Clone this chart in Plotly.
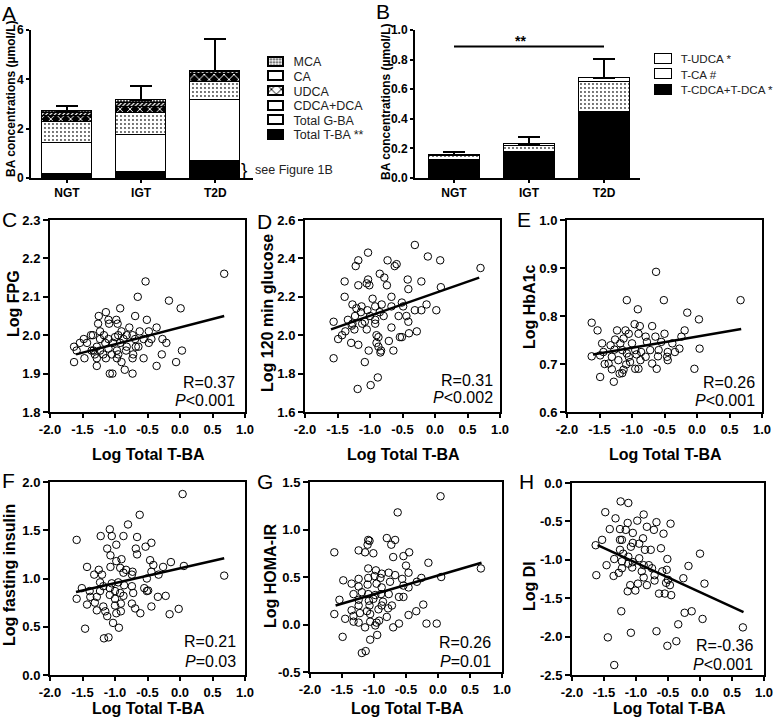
import plotly.graph_objects as go

W, H = 777, 722
FONT = "Liberation Sans, Arial, sans-serif"


def fx(px):
    return px / W


def fy(py):
    return 1 - py / H


def bold(s):
    return f"<b>{s}</b>"


# ---------------- data ----------------
groups = ["NGT", "IGT", "T2D"]

# panel A: stacked layers, bottom -> top (umol/L)
a_names = ["Total T-BA **", "Total G-BA", "CDCA+DCA", "UDCA", "CA", "MCA"]
a_tba = [0.155, 0.227, 0.676]
a_gba = [1.245, 1.50, 2.50]
a_cdca_dca = [0.88, 0.91, 0.72]
a_udca = [0.23, 0.25, 0.31]
a_ca = [0.11, 0.17, 0.10]
a_mca = [0.10, 0.12, 0.05]
a_sem = [0.20, 0.55, 1.29]
a_yticks = [0, 2, 4, 6]

# panel B: taurine-conjugated, bottom -> top
b_names = ["T-CDCA+T-DCA *", "T-CA #", "T-UDCA *"]
b_tcdca_tdca = [0.120, 0.173, 0.443]
b_tca = [0.026, 0.040, 0.209]
b_tudca = [0.009, 0.014, 0.024]
b_sem = [0.018, 0.049, 0.128]
b_sig_y = 0.888
b_yticks = [0.0, 0.2, 0.4, 0.6, 0.8, 1.0]

x_ticks = [-2.0, -1.5, -1.0, -0.5, 0.0, 0.5, 1.0]
fit_x = [-1.6, 0.68]

# C: Log FPG
c_pts = [(0.68, 2.16), (-0.53, 2.14), (-0.65, 2.10), (-0.17, 2.09), (0.01, 2.07), (-0.92, 2.07), (-0.69, 2.05), (-1.25, 2.05),
         (-1.14, 2.06), (-0.98, 2.04), (-1.10, 2.04), (-0.51, 2.04), (-1.09, 2.03), (-0.96, 2.03), (-0.36, 2.02), (-0.78, 2.02),
         (-1.26, 2.03), (-0.48, 2.01), (-0.62, 2.01), (-1.34, 2.00), (-1.23, 2.01), (-0.95, 2.00), (-0.90, 2.01), (-0.82, 2.00),
         (-0.73, 2.00), (-1.48, 1.99), (-1.37, 2.00), (-1.23, 1.99), (-1.10, 1.99), (-1.00, 1.995), (-0.87, 1.99), (-0.69, 1.99),
         (-0.56, 1.99), (-0.44, 1.99), (-0.27, 1.99), (-0.21, 1.98), (-1.63, 1.97), (-1.54, 1.98), (-1.43, 1.98), (-1.28, 1.97),
         (-1.15, 1.98), (-1.03, 1.98), (-0.92, 1.98), (-0.82, 1.97), (-0.68, 1.97), (-0.48, 1.98), (-1.59, 1.96), (-1.36, 1.96),
         (-1.23, 1.96), (-1.10, 1.965), (-0.97, 1.96), (-0.83, 1.96), (-0.64, 1.97), (0.03, 1.96), (-1.31, 1.95), (-1.18, 1.95),
         (-1.05, 1.95), (-0.95, 1.95), (-0.72, 1.95), (-0.28, 1.95), (-1.63, 1.93), (-1.47, 1.94), (-1.28, 1.94), (-1.14, 1.94),
         (-0.97, 1.94), (-0.73, 1.94), (-0.56, 1.94), (-1.28, 1.92), (-0.90, 1.93), (-0.36, 1.92), (-0.06, 1.93), (-1.08, 1.90),
         (-0.85, 1.91), (-0.73, 1.90), (-1.04, 1.90), (-1.17, 2.00), (-1.33, 1.96)]
c_fit = [1.95, 2.05]
c_yticks = [1.8, 1.9, 2.0, 2.1, 2.2, 2.3]

# D: Log 120 min glucose
d_pts = [(-0.31, 2.47), (-1.03, 2.43), (-0.11, 2.41), (0.08, 2.39), (-1.18, 2.39), (-0.73, 2.39), (-0.59, 2.37), (-1.22, 2.36),
         (-0.62, 2.36), (0.70, 2.35), (-0.85, 2.32), (-1.39, 2.28), (-0.78, 2.30), (-0.42, 2.29), (-0.21, 2.28), (-1.03, 2.29),
         (-1.05, 2.27), (-1.18, 2.26), (-1.01, 2.26), (-0.74, 2.26), (-0.41, 2.24), (0.09, 2.25), (-1.39, 2.20), (-0.67, 2.20),
         (-0.96, 2.19), (-1.27, 2.16), (-0.82, 2.16), (-0.92, 2.15), (-0.51, 2.17), (-0.13, 2.16), (-1.13, 2.15), (-1.21, 2.14),
         (-0.49, 2.15), (-0.67, 2.15), (-1.04, 2.13), (-0.85, 2.12), (-0.31, 2.13), (0.02, 2.13), (-0.21, 2.13), (-1.14, 2.12),
         (-1.23, 2.10), (-1.00, 2.10), (-0.44, 2.10), (-0.56, 2.10), (-0.79, 2.10), (-0.92, 2.08), (-1.34, 2.08), (-1.56, 2.07),
         (-1.08, 2.07), (-0.41, 2.07), (-1.27, 2.06), (-1.12, 2.06), (-0.92, 2.06), (-0.67, 2.04), (-1.24, 2.03), (-1.05, 2.03),
         (-1.28, 2.05), (-0.40, 2.01), (-0.28, 2.02), (-1.43, 2.00), (-1.49, 1.98), (-0.90, 2.00), (-0.87, 1.99), (-0.54, 1.99),
         (-0.51, 1.99), (-0.71, 1.97), (-1.29, 1.96), (-1.18, 1.95), (-0.90, 1.96), (-0.87, 1.94), (-1.02, 1.92), (-0.83, 1.92),
         (-0.64, 1.92), (-0.84, 1.91), (-1.56, 1.88), (-1.08, 1.86), (-0.88, 1.78), (-0.99, 1.74), (-1.19, 1.72), (-1.38, 2.02)]
d_fit = [2.03, 2.30]
d_yticks = [1.6, 1.8, 2.0, 2.2, 2.4, 2.6]

# E: Log HbA1c
e_pts = [(-0.63, 0.892), (-1.08, 0.833), (-0.51, 0.833), (0.67, 0.833), (-0.91, 0.814), (-0.15, 0.807), (0.03, 0.793),
         (-1.62, 0.786), (-0.96, 0.783), (-0.69, 0.779), (-0.88, 0.779), (-1.53, 0.770), (-0.19, 0.770), (-1.23, 0.770),
         (-1.10, 0.770), (-1.05, 0.763), (-0.50, 0.763), (-0.90, 0.763), (-0.79, 0.757), (-0.24, 0.757), (-0.64, 0.757),
         (-1.46, 0.743), (-1.26, 0.751), (-1.13, 0.753), (-1.33, 0.739), (-1.18, 0.743), (-1.00, 0.743), (-0.77, 0.746),
         (-0.55, 0.746), (-0.38, 0.743), (-0.27, 0.732), (0.04, 0.732), (-1.44, 0.725), (-1.27, 0.730), (-1.15, 0.729),
         (-1.08, 0.722), (-0.95, 0.729), (-0.86, 0.725), (-0.72, 0.729), (-0.59, 0.729), (-0.45, 0.725), (-0.34, 0.725),
         (-1.62, 0.716), (-1.49, 0.718), (-1.31, 0.715), (-1.05, 0.715), (-0.93, 0.720), (-0.79, 0.715), (-0.60, 0.716),
         (-0.46, 0.715), (-1.21, 0.708), (-1.03, 0.704), (-0.87, 0.708), (-0.69, 0.701), (-0.45, 0.708), (-1.42, 0.700),
         (-1.36, 0.701), (-1.09, 0.699), (-1.31, 0.689), (-1.13, 0.688), (-0.95, 0.690), (-0.90, 0.690), (-0.62, 0.690),
         (-0.04, 0.690), (-1.15, 0.681), (-1.49, 0.673), (-1.28, 0.663), (-1.19, 0.680)]
e_fit = [0.720, 0.773]
e_yticks = [0.6, 0.7, 0.8, 0.9, 1.0]

# F: Log fasting insulin
f_pts = [(0.04, 1.875), (-0.62, 1.66), (-1.59, 1.40), (-0.80, 1.56), (-1.22, 1.44), (-1.08, 1.51), (-1.05, 1.44), (-0.87, 1.44),
         (-0.66, 1.43), (-0.44, 1.37), (-1.12, 1.31), (-0.98, 1.35), (-0.68, 1.31), (-0.53, 1.33), (-1.07, 1.24), (-0.66, 1.25),
         (-1.43, 1.12), (-1.07, 1.12), (-0.98, 1.18), (-0.90, 1.20), (-0.46, 1.19), (-0.41, 1.14), (-0.26, 1.12), (-0.14, 1.17),
         (0.06, 1.13), (-1.25, 1.09), (-0.92, 1.11), (-0.83, 1.09), (-0.73, 1.07), (-0.44, 1.07), (-1.20, 1.04), (-0.87, 1.06),
         (-0.74, 1.04), (-0.33, 1.04), (-1.32, 1.04), (0.68, 1.03), (-1.51, 0.90), (-1.23, 0.96), (-1.05, 0.95), (-0.95, 0.96),
         (-1.18, 0.92), (-1.08, 0.90), (-0.86, 0.93), (-0.74, 0.92), (-0.51, 1.00), (-0.55, 0.90), (-0.51, 0.87), (-1.39, 0.87),
         (-1.23, 0.87), (-1.00, 0.87), (-0.72, 0.85), (-0.92, 0.85), (-0.49, 0.875), (-1.38, 0.81), (-1.28, 0.81), (-1.08, 0.83),
         (-0.87, 0.82), (-0.34, 0.81), (-0.22, 0.82), (-1.59, 0.79), (-1.31, 0.75), (-1.00, 0.79), (-0.91, 0.74), (-0.74, 0.74),
         (-1.43, 0.73), (-1.00, 0.72), (-1.18, 0.71), (-0.69, 0.69), (-0.44, 0.71), (-1.28, 0.67), (-1.15, 0.66), (-0.91, 0.66),
         (-0.61, 0.64), (-0.16, 0.63), (-0.02, 0.685), (-0.98, 0.64), (-1.12, 0.61), (-1.03, 0.54), (-0.94, 0.49), (-1.46, 0.48),
         (-1.17, 0.38), (-1.10, 0.39)]
f_fit = [0.86, 1.21]
f_yticks = [0.0, 0.5, 1.0, 1.5, 2.0]

# G: Log HOMA-IR
g_pts = [(0.04, 1.35), (-0.63, 1.18), (-1.62, 0.76), (-1.09, 0.89), (-0.80, 0.91), (-0.67, 0.89), (-1.07, 0.88), (-0.73, 0.84),
         (-1.10, 0.84), (-1.24, 0.78), (-1.14, 0.76), (-1.01, 0.75), (-0.45, 0.76), (-0.54, 0.72), (-0.70, 0.71), (-0.15, 0.65),
         (-0.50, 0.62), (-1.09, 0.59), (-0.97, 0.57), (-0.88, 0.535), (-0.77, 0.545), (-0.46, 0.545), (-0.99, 0.51), (-0.67, 0.52),
         (-1.48, 0.465), (-1.24, 0.48), (-1.09, 0.49), (-0.90, 0.49), (-0.56, 0.48), (-0.26, 0.49), (0.05, 0.50), (0.67, 0.59),
         (-1.35, 0.43), (-1.10, 0.42), (-0.96, 0.43), (-0.75, 0.45), (-0.33, 0.45), (-0.54, 0.41), (-1.24, 0.40), (-0.88, 0.39),
         (-0.46, 0.39), (-1.19, 0.34), (-1.32, 0.32), (-1.09, 0.32), (-0.98, 0.31), (-0.89, 0.32), (-0.77, 0.32), (-0.61, 0.29),
         (-0.54, 0.29), (-1.54, 0.26), (-1.24, 0.26), (-1.08, 0.25), (-1.01, 0.27), (-0.86, 0.24), (-1.24, 0.20), (-1.07, 0.20),
         (-0.88, 0.20), (-0.72, 0.20), (-0.23, 0.21), (-1.35, 0.15), (-1.11, 0.14), (-0.93, 0.16), (-0.78, 0.17), (-0.46, 0.10),
         (-0.34, 0.14), (-1.62, 0.11), (-1.32, 0.09), (-1.22, 0.12), (-1.06, 0.11), (-0.80, 0.08), (-1.45, 0.06), (-1.32, 0.03),
         (-1.24, 0.02), (-1.06, 0.03), (-0.92, 0.04), (-0.96, 0.02), (-0.61, 0.01), (-0.18, 0.01), (-0.02, 0.01), (-1.14, -0.03),
         (-0.98, -0.01), (-0.70, -0.03), (-1.49, -0.13), (-1.06, -0.16), (-0.95, -0.11), (-1.19, -0.30), (-1.13, -0.28)]
g_fit = [0.20, 0.65]
g_yticks = [-0.5, 0.0, 0.5, 1.0, 1.5]

# H: Log DI
h_pts = [(-1.24, -0.24), (-1.12, -0.26), (-1.48, -0.38), (-0.88, -0.41), (-1.32, -0.46), (-0.98, -0.49), (-1.13, -0.52),
         (-0.68, -0.51), (-0.46, -0.53), (-0.83, -0.57), (-1.41, -0.60), (-1.25, -0.60), (-1.16, -0.61), (-0.72, -0.61),
         (-0.57, -0.66), (-1.05, -0.65), (-1.53, -0.74), (-1.25, -0.74), (-1.22, -0.74), (-0.89, -0.72), (-1.05, -0.78),
         (-0.95, -0.79), (-1.08, -0.83), (-0.77, -0.87), (-0.61, -0.85), (-1.63, -0.81), (-1.25, -0.87), (-1.20, -0.92),
         (-0.86, -0.87), (0.00, -0.92), (-1.34, -0.99), (-1.12, -0.96), (-0.95, -0.98), (-0.51, -0.99), (-1.22, -1.02),
         (-1.05, -1.03), (-1.12, -1.05), (-0.88, -1.07), (-0.18, -1.08), (-1.46, -1.07), (-0.80, -1.07), (-1.22, -1.11),
         (-1.06, -1.10), (-0.75, -1.11), (-0.59, -1.15), (-0.52, -1.13), (-1.27, -1.17), (-0.91, -1.15), (-1.62, -1.20),
         (-1.35, -1.21), (-0.71, -1.20), (-0.26, -1.24), (-0.88, -1.23), (-0.50, -1.26), (-0.71, -1.27), (-0.53, -1.30),
         (-0.97, -1.31), (-1.09, -1.33), (-0.83, -1.33), (-0.47, -1.33), (0.07, -1.31), (-1.13, -1.41), (-1.01, -1.40),
         (-0.64, -1.44), (-0.55, -1.44), (-0.45, -1.46), (-0.13, -1.67), (-0.24, -1.69), (-1.23, -1.67), (0.04, -1.77),
         (-0.34, -1.84), (0.67, -1.88), (-0.68, -1.93), (-1.08, -1.95), (-0.37, -2.06), (-0.51, -2.12), (-1.44, -2.01),
         (-1.34, -2.37)]
h_fit = [-0.81, -1.68]
h_yticks = [-2.5, -2.0, -1.5, -1.0, -0.5, 0.0]

# ---------------- styles ----------------
fills = {
    "Total T-BA **": dict(shape="", bg="black", fg="black", size=8, solidity=0.3),
    "Total G-BA": dict(shape="", bg="white", fg="white", size=8, solidity=0.3),
    "CDCA+DCA": dict(shape=".", bg="white", fg="#444", size=4, solidity=0.18),
    "UDCA": dict(shape="x", bg="black", fg="white", size=7, solidity=0.25),
    "CA": dict(shape="/", bg="white", fg="black", size=3, solidity=0.6),
    "MCA": dict(shape=".", bg="#111", fg="white", size=3, solidity=0.3),
    "T-CDCA+T-DCA *": dict(shape="", bg="black", fg="black", size=8, solidity=0.3),
    "T-CA #": dict(shape=".", bg="white", fg="#444", size=4, solidity=0.18),
    "T-UDCA *": dict(shape="", bg="white", fg="white", size=8, solidity=0.3),
}

tick_font = lambda s: dict(family=FONT, size=s, color="black")
base_axis = dict(showline=True, linecolor="black", linewidth=2, ticks="outside", ticklen=5,
                 tickwidth=2, tickcolor="black", showgrid=False, zeroline=False, automargin=False)

fig = go.Figure()
layout = {}
annotations = []
shapes = []


def add_stack(names, layers, sem, n):
    xa, ya = ("x", "y") if n == 1 else (f"x{n}", f"y{n}")
    for i, (name, vals) in enumerate(zip(names, layers)):
        st = fills[name]
        top = i == len(layers) - 1
        fig.add_trace(go.Bar(
            x=groups, y=vals, xaxis=xa, yaxis=ya, width=0.68, showlegend=False, hoverinfo="skip",
            marker=dict(color=st["bg"], line=dict(color="black", width=1.5),
                        pattern=dict(shape=st["shape"], bgcolor=st["bg"], fgcolor=st["fg"],
                                     size=st["size"], solidity=st["solidity"])),
            error_y=dict(type="data", array=sem, arrayminus=[0] * len(sem), symmetric=False,
                         color="black", thickness=2, width=11, visible=top),
        ))


def add_key(names, n, box, font_size):
    # patterned swatches + labels, drawn as a tiny horizontal bar chart
    st = [fills[k] for k in names]
    fig.add_trace(go.Bar(
        y=names, x=[1] * len(names), orientation="h", xaxis=f"x{n}", yaxis=f"y{n}", width=0.62,
        showlegend=False, hoverinfo="skip",
        marker=dict(color=[s["bg"] for s in st], line=dict(color="black", width=1.5),
                    pattern=dict(shape=[s["shape"] for s in st], bgcolor=[s["bg"] for s in st],
                                 fgcolor=[s["fg"] for s in st], size=[s["size"] for s in st],
                                 solidity=[s["solidity"] for s in st])),
    ))
    x0, x1, y0, y1, label_x = box
    pad = (x1 - x0) * 0.1
    layout[f"xaxis{n}"] = dict(domain=[fx(x0 - pad), fx(x1 + pad)], anchor=f"y{n}", range=[-0.1, 1.1],
                               visible=False)
    layout[f"yaxis{n}"] = dict(domain=[fy(y1), fy(y0)], anchor=f"x{n}", type="category",
                               range=[len(names) - 0.5, -0.5], side="right", showline=False, ticks="",
                               tickmode="array", tickvals=names, ticktext=names,
                               showgrid=False, zeroline=False,
                               ticklabelstandoff=int(round(label_x - (x1 + pad))),
                               automargin=False, tickfont=dict(family=FONT, size=font_size, color="#222"))


# panel A
add_stack(a_names, [a_tba, a_gba, a_cdca_dca, a_udca, a_ca, a_mca], a_sem, 1)
layout["xaxis"] = dict(base_axis, domain=[fx(31), fx(253)], anchor="y", type="category",
                       range=[-0.486, 2.51], ticklen=3, tickvals=groups,
                       ticktext=[bold(g) for g in groups], tickfont=tick_font(12))
layout["yaxis"] = dict(base_axis, domain=[fy(178), fy(30)], anchor="x", range=[0, 6], ticklen=3,
                       tickvals=a_yticks, ticktext=[bold(v) for v in a_yticks], tickfont=tick_font(12))

# panel B
add_stack(b_names, [b_tcdca_tdca, b_tca, b_tudca], b_sem, 2)
layout["xaxis2"] = dict(base_axis, domain=[fx(415), fx(640)], anchor="y2", type="category",
                        range=[-0.52, 2.48], ticklen=3, tickvals=groups,
                        ticktext=[bold(g) for g in groups], tickfont=tick_font(12))
layout["yaxis2"] = dict(base_axis, domain=[fy(178), fy(30)], anchor="x2", range=[0, 1], ticklen=3,
                        tickvals=b_yticks, ticktext=[bold(f"{v:.1f}") for v in b_yticks],
                        tickfont=tick_font(12))
shapes.append(dict(type="line", xref="x2", yref="y2", x0=groups.index("NGT"), x1=groups.index("T2D"),
                   y0=b_sig_y, y1=b_sig_y, line=dict(color="black", width=2)))

# keys: swatch left, right, top, bottom, label start (px)
add_key(list(reversed(a_names)), 9, (268, 283, 54.7, 142.3, 292), 12.5)
add_key(list(reversed(b_names)), 10, (655, 672, 51.25, 97.75, 680), 11.6)

# scatter panels
scatter = [
    ("C", c_pts, c_fit, c_yticks, "R=0.37", "<i>P</i>&lt;0.001", "Log FPG"),
    ("D", d_pts, d_fit, d_yticks, "R=0.31", "<i>P</i>&lt;0.002", "Log 120 min glucose"),
    ("E", e_pts, e_fit, e_yticks, "R=0.26", "<i>P</i>&lt;0.001", "Log HbA1c"),
    ("F", f_pts, f_fit, f_yticks, "R=0.21", "<i>P</i>=0.03", "Log fasting insulin"),
    ("G", g_pts, g_fit, g_yticks, "R=0.26", "<i>P</i>=0.01", "Log HOMA-IR"),
    ("H", h_pts, h_fit, h_yticks, "R=-0.36", "<i>P</i>&lt;0.001", "Log DI"),
]
# px boxes: left, right, top, bottom
boxes = {"C": (50, 245, 220, 412), "D": (305, 500, 220, 412), "E": (567, 762, 220, 412),
         "F": (50, 245, 482, 675), "G": (310, 502, 482, 672), "H": (572, 764, 483, 675)}
stat_pos = {"C": (237, 382, 400), "D": (495, 380, 398), "E": (757, 382, 400),
            "F": (238, 641, 661), "G": (493, 642, 661), "H": (755, 645, 664)}
ytitle_pos = {"C": (13, 304), "D": (267, 313), "E": (529, 307), "F": (9, 575), "G": (270, 576), "H": (529, 586)}
xtitle_y = {"C": 454, "D": 454, "E": 454, "F": 708, "G": 708, "H": 708}

for k, (letter, pts, fit, yt, rtxt, ptxt, ytitle) in enumerate(scatter):
    n = k + 3
    xs = [p[0] for p in pts]
    ys = [p[1] for p in pts]
    fig.add_trace(go.Scatter(x=xs, y=ys, mode="markers", xaxis=f"x{n}", yaxis=f"y{n}", showlegend=False,
                             marker=dict(symbol="circle-open", size=7.5, color="black", line=dict(width=1))))
    fig.add_trace(go.Scatter(x=fit_x, y=fit, mode="lines", xaxis=f"x{n}", yaxis=f"y{n}", showlegend=False,
                             line=dict(color="black", width=2.5)))
    l, r, t, b = boxes[letter]
    layout[f"xaxis{n}"] = dict(base_axis, domain=[fx(l), fx(r)], anchor=f"y{n}", mirror=True, ticklen=4,
                               range=[x_ticks[0], x_ticks[-1]], tickvals=x_ticks,
                               ticktext=[bold(f"{v:.1f}") for v in x_ticks], tickfont=tick_font(13))
    layout[f"yaxis{n}"] = dict(base_axis, domain=[fy(b), fy(t)], anchor=f"x{n}", mirror=True,
                               range=[yt[0], yt[-1]], tickvals=yt,
                               ticktext=[bold(f"{v:.1f}") for v in yt], tickfont=tick_font(13))
    sx, ry, py_ = stat_pos[letter]
    annotations.append(dict(text=rtxt, x=fx(sx), y=fy(ry), xanchor="right", yanchor="middle",
                            font=dict(family=FONT, size=16, color="black")))
    annotations.append(dict(text=ptxt, x=fx(sx), y=fy(py_), xanchor="right", yanchor="middle",
                            font=dict(family=FONT, size=16, color="black")))
    tx, ty = ytitle_pos[letter]
    annotations.append(dict(text=bold(ytitle), x=fx(tx), y=fy(ty), textangle=-90, xanchor="center",
                            yanchor="middle", font=dict(family=FONT, size=16, color="black")))
    annotations.append(dict(text=bold("Log Total T-BA"), x=fx((l + r) / 2 + 1), y=fy(xtitle_y[letter]),
                            xanchor="center", yanchor="middle", font=dict(family=FONT, size=16, color="black")))

# panel letters
letters = {"A": (9, 13), "B": (383, 12), "C": (9, 219), "D": (264, 221), "E": (524, 220),
           "F": (8, 480), "G": (265, 481), "H": (526, 481)}
for t, (x, y) in letters.items():
    annotations.append(dict(text=t, x=fx(x), y=fy(y), xanchor="center", yanchor="middle",
                            font=dict(family=FONT, size=21, color="black")))

# bar-chart titles and notes
for x, y in [(11, 99), (386, 102)]:
    annotations.append(dict(text=bold("BA concentrations (µmol/L)"), x=fx(x), y=fy(y), textangle=-90,
                            xanchor="center", yanchor="middle", font=dict(family=FONT, size=12, color="black")))
annotations.append(dict(text=bold("**"), x=fx(520), y=fy(41), xanchor="center", yanchor="middle",
                        font=dict(family=FONT, size=14, color="black")))
annotations.append(dict(text="}", x=fx(244), y=fy(169), xanchor="center", yanchor="middle",
                        font=dict(family=FONT, size=19, color="black")))
annotations.append(dict(text="see Figure 1B", x=fx(253), y=fy(170), xanchor="left", yanchor="middle",
                        font=dict(family=FONT, size=12.5, color="#222")))

for a in annotations:
    a.update(xref="paper", yref="paper", showarrow=False)

fig.update_layout(
    template="none",
    width=W, height=H, autosize=False,
    margin=dict(l=0, r=0, t=0, b=0, pad=0),
    paper_bgcolor="white", plot_bgcolor="white",
    barmode="stack", bargap=0,
    font=dict(family=FONT, color="black"),
    annotations=annotations, shapes=shapes,
    **layout,
)

# drop the browser's default page margin so the figure sits at the window origin
fig.write_html("out.html", config={"displayModeBar": False},
               post_script="document.body.style.margin='0';")
